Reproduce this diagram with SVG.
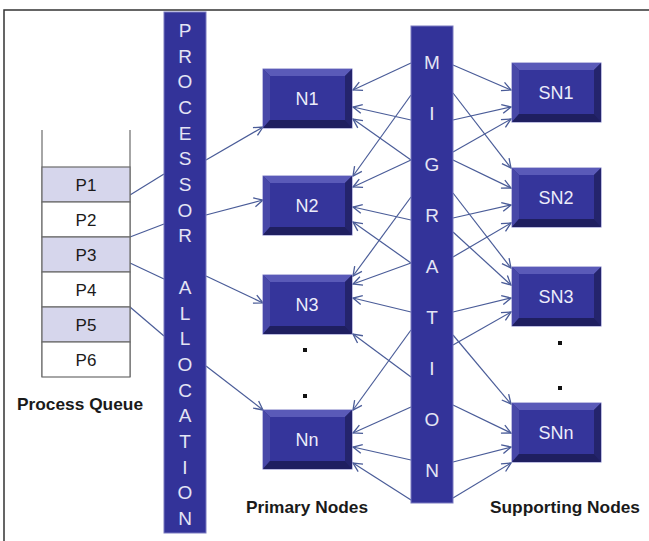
<svg xmlns="http://www.w3.org/2000/svg" width="649" height="541" viewBox="0 0 649 541">
<defs>
<style>
.frame{stroke:#333;stroke-width:1.5;fill:none}
.bar{fill:#333399;stroke:#7a7ac0;stroke-width:1}
.barT{font-family:"Liberation Sans",Arial,sans-serif;font-size:19px;fill:#e4e4f4;text-anchor:middle}
.q{stroke:#6b6b6b;stroke-width:1.2}
.qa{fill:#d6d6ec}
.qb{fill:#ffffff}
.qT{font-family:"Liberation Sans",Arial,sans-serif;font-size:17px;fill:#1a1a1a;text-anchor:middle}
.lbl{font-family:"Liberation Sans",Arial,sans-serif;font-size:17px;font-weight:bold;fill:#1a1a1a}
.nT{font-family:"Liberation Sans",Arial,sans-serif;font-size:18px;fill:#ececfa;text-anchor:middle}
.c{stroke:#4a5c98;stroke-width:1.2;fill:none}
.ca{stroke:#4a5c98;stroke-width:1.2;fill:none;marker-end:url(#arr)}
.dot{fill:#111}
</style>
<marker id="arr" viewBox="-10 -6 12 12" refX="0" refY="0" markerWidth="12" markerHeight="12" markerUnits="userSpaceOnUse" orient="auto">
<path d="M-9,-4.5 L0,0 L-9,4.5" fill="none" stroke="#4a5c98" stroke-width="1.3"/>
</marker>
<g id="box">
<rect x="0" y="0" width="89" height="59" fill="#2a2a7c" stroke="#7c7cc4" stroke-width="1"/>
<polygon points="0,0 89,0 82,7 7,7" fill="#5a5ab8"/>
<polygon points="0,0 7,7 7,51 0,59" fill="#4848a8"/>
<polygon points="89,0 89,59 82,51 82,7" fill="#24246c"/>
<polygon points="0,59 89,59 82,51 7,51" fill="#1f1f60"/>
<rect x="7" y="7" width="75" height="44" fill="#35359b"/>
</g>
</defs>
<rect width="649" height="541" fill="#fff"/>
<path class="frame" d="M4,541 L4,10 L649,10"/>

<g id="connectors">
<line class="c" x1="130" y1="195" x2="164" y2="174"/>
<line class="c" x1="130" y1="237" x2="164" y2="224"/>
<line class="c" x1="130" y1="263" x2="164" y2="279"/>
<line class="c" x1="130" y1="307" x2="164" y2="336"/>
<line class="ca" x1="206" y1="160" x2="263" y2="127"/>
<line class="ca" x1="206" y1="215" x2="263" y2="200"/>
<line class="ca" x1="206" y1="276" x2="263" y2="303"/>
<line class="ca" x1="206" y1="366" x2="263" y2="410"/>

<line class="ca" x1="411" y1="63" x2="353" y2="90"/>
<line class="ca" x1="411" y1="120" x2="353" y2="107"/>
<line class="ca" x1="411" y1="160" x2="353" y2="119"/>
<line class="ca" x1="411" y1="95" x2="353" y2="176"/>
<line class="ca" x1="411" y1="160" x2="353" y2="187"/>
<line class="ca" x1="411" y1="220" x2="353" y2="207"/>
<line class="ca" x1="411" y1="263" x2="353" y2="222"/>
<line class="ca" x1="411" y1="197" x2="353" y2="276"/>
<line class="ca" x1="411" y1="263" x2="353" y2="284"/>
<line class="ca" x1="411" y1="312" x2="353" y2="298"/>
<line class="ca" x1="411" y1="377" x2="353" y2="334"/>
<line class="ca" x1="411" y1="330" x2="353" y2="410"/>
<line class="ca" x1="411" y1="407" x2="353" y2="433"/>
<line class="ca" x1="411" y1="460" x2="353" y2="447"/>
<line class="ca" x1="411" y1="500" x2="353" y2="463"/>

<line class="ca" x1="453" y1="65" x2="511" y2="90"/>
<line class="ca" x1="453" y1="120" x2="511" y2="107"/>
<line class="ca" x1="453" y1="152" x2="511" y2="119"/>
<line class="ca" x1="453" y1="93" x2="511" y2="168"/>
<line class="ca" x1="453" y1="160" x2="511" y2="188"/>
<line class="ca" x1="453" y1="218" x2="511" y2="205"/>
<line class="ca" x1="453" y1="257" x2="511" y2="223"/>
<line class="ca" x1="453" y1="193" x2="511" y2="268"/>
<line class="ca" x1="453" y1="232" x2="511" y2="285"/>
<line class="ca" x1="453" y1="312" x2="511" y2="298"/>
<line class="ca" x1="453" y1="345" x2="511" y2="312"/>
<line class="ca" x1="453" y1="335" x2="511" y2="404"/>
<line class="ca" x1="453" y1="405" x2="511" y2="433"/>
<line class="ca" x1="453" y1="462" x2="511" y2="447"/>
<line class="ca" x1="453" y1="498" x2="511" y2="463"/>
</g>

<g id="process-queue">
<line class="q" x1="42" y1="130" x2="42" y2="377"/>
<line class="q" x1="130" y1="130" x2="130" y2="377"/>
<rect class="q qa" x="42" y="167" width="88" height="35"/>
<rect class="q qb" x="42" y="202" width="88" height="35"/>
<rect class="q qa" x="42" y="237" width="88" height="35"/>
<rect class="q qb" x="42" y="272" width="88" height="35"/>
<rect class="q qa" x="42" y="307" width="88" height="35"/>
<rect class="q qb" x="42" y="342" width="88" height="35"/>
<text class="qT" x="86" y="191">P1</text>
<text class="qT" x="86" y="226">P2</text>
<text class="qT" x="86" y="261">P3</text>
<text class="qT" x="86" y="296">P4</text>
<text class="qT" x="86" y="331">P5</text>
<text class="qT" x="86" y="366">P6</text>
<text class="lbl" x="17" y="410" textLength="126" lengthAdjust="spacingAndGlyphs">Process Queue</text>
</g>

<g id="processor-allocation">
<rect class="bar" x="164" y="12" width="42" height="521"/>
<text class="barT" x="185" y="37">P</text>
<text class="barT" x="185" y="63">R</text>
<text class="barT" x="185" y="88">O</text>
<text class="barT" x="185" y="114">C</text>
<text class="barT" x="185" y="140">E</text>
<text class="barT" x="185" y="165">S</text>
<text class="barT" x="185" y="191">S</text>
<text class="barT" x="185" y="217">O</text>
<text class="barT" x="185" y="242">R</text>
<text class="barT" x="185" y="294">A</text>
<text class="barT" x="185" y="320">L</text>
<text class="barT" x="185" y="345">L</text>
<text class="barT" x="185" y="371">O</text>
<text class="barT" x="185" y="397">C</text>
<text class="barT" x="185" y="422">A</text>
<text class="barT" x="185" y="448">T</text>
<text class="barT" x="185" y="474">I</text>
<text class="barT" x="185" y="499">O</text>
<text class="barT" x="185" y="525">N</text>
</g>

<g id="migration">
<rect class="bar" x="411" y="26" width="42" height="477"/>
<text class="barT" x="432" y="69">M</text>
<text class="barT" x="432" y="120">I</text>
<text class="barT" x="432" y="171">G</text>
<text class="barT" x="432" y="222">R</text>
<text class="barT" x="432" y="273">A</text>
<text class="barT" x="432" y="324">T</text>
<text class="barT" x="432" y="375">I</text>
<text class="barT" x="432" y="426">O</text>
<text class="barT" x="432" y="477">N</text>
</g>

<g id="N1"><use href="#box" x="263" y="69"/><text class="nT" x="307" y="105">N1</text></g>
<g id="N2"><use href="#box" x="263" y="176"/><text class="nT" x="307" y="212">N2</text></g>
<g id="N3"><use href="#box" x="263" y="275"/><text class="nT" x="307" y="311">N3</text></g>
<g id="Nn"><use href="#box" x="263" y="410"/><text class="nT" x="307" y="446">Nn</text></g>
<g id="primary-dots"><rect class="dot" x="303" y="348" width="4" height="4"/><rect class="dot" x="303" y="394" width="4" height="4"/></g>
<text class="lbl" x="246" y="513" textLength="122" lengthAdjust="spacingAndGlyphs">Primary Nodes</text>

<g id="SN1"><use href="#box" x="512" y="63"/><text class="nT" x="556" y="99">SN1</text></g>
<g id="SN2"><use href="#box" x="512" y="168"/><text class="nT" x="556" y="204">SN2</text></g>
<g id="SN3"><use href="#box" x="512" y="267"/><text class="nT" x="556" y="303">SN3</text></g>
<g id="SNn"><use href="#box" x="512" y="403"/><text class="nT" x="556" y="439">SNn</text></g>
<g id="supporting-dots"><rect class="dot" x="558" y="341" width="4" height="4"/><rect class="dot" x="558" y="386" width="4" height="4"/></g>
<text class="lbl" x="490" y="513" textLength="150" lengthAdjust="spacingAndGlyphs">Supporting Nodes</text>
</svg>
